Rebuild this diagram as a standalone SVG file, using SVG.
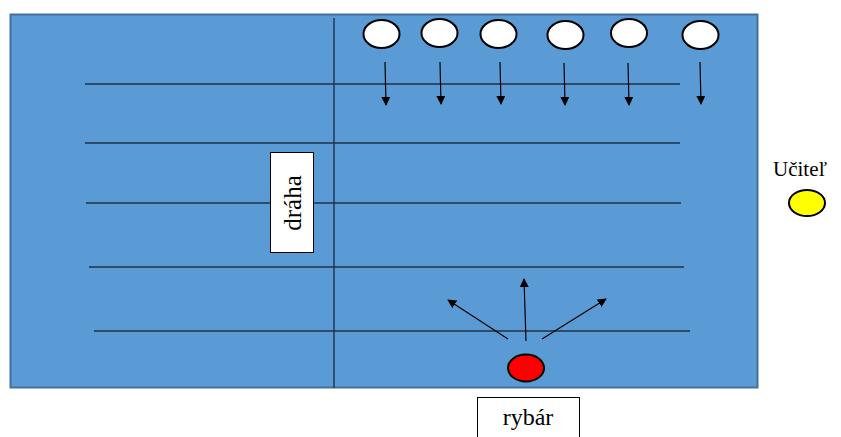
<svg xmlns="http://www.w3.org/2000/svg" width="841" height="437" viewBox="0 0 841 437">
  <style>
    .field { fill: #5B9BD5; stroke: #41719C; stroke-width: 2; }
    .lane { stroke: #1E3247; stroke-width: 1.4; fill: none; }
    .fish { fill: #FFFFFF; stroke: #000000; stroke-width: 2; }
    .arrow { stroke: #000000; stroke-width: 1.2; fill: none; marker-end: url(#head); }
    .label-box { fill: #FFFFFF; stroke: #000000; stroke-width: 1; }
    .label { font-family: "Liberation Serif", "Times New Roman", serif; fill: #000000; }
  </style>
  <defs>
    <marker id="head" viewBox="0 0 10 10" refX="9" refY="5" markerWidth="9" markerHeight="9" markerUnits="userSpaceOnUse" orient="auto">
      <path d="M0,0 L10,5 L0,10 Z" fill="#000000"/>
    </marker>
  </defs>

  <!-- swimming pool -->
  <g id="pool">
    <rect class="field" x="10.5" y="14.5" width="747" height="373"/>
  </g>

  <!-- lane lines and centre divider -->
  <g id="lanes">
    <line class="lane" x1="334" y1="18" x2="334" y2="388"/>
    <line class="lane" x1="85" y1="84" x2="680" y2="84"/>
    <line class="lane" x1="85" y1="143" x2="680" y2="143"/>
    <line class="lane" x1="86" y1="203" x2="681" y2="203"/>
    <line class="lane" x1="89" y1="267" x2="684" y2="267"/>
    <line class="lane" x1="94" y1="331" x2="690" y2="331"/>
  </g>

  <!-- swimmers (fish) at the top -->
  <g id="fish1"><ellipse class="fish" cx="381.5" cy="34" rx="18" ry="14"/></g>
  <g id="fish2"><ellipse class="fish" cx="439.5" cy="33" rx="18" ry="14"/></g>
  <g id="fish3"><ellipse class="fish" cx="498.5" cy="34" rx="18" ry="14"/></g>
  <g id="fish4"><ellipse class="fish" cx="565.5" cy="35" rx="18" ry="14"/></g>
  <g id="fish5"><ellipse class="fish" cx="629" cy="33" rx="18" ry="14"/></g>
  <g id="fish6"><ellipse class="fish" cx="700.5" cy="35" rx="18" ry="14"/></g>

  <!-- fisherman -->
  <g id="fisherman">
    <ellipse cx="526" cy="368" rx="18" ry="13.5" fill="#FF0000" stroke="#000000" stroke-width="2"/>
  </g>

  <!-- teacher -->
  <g id="teacher">
    <text class="label" x="800" y="176" font-size="21" text-anchor="middle">Učiteľ</text>
    <ellipse cx="807" cy="203" rx="18" ry="13" fill="#FFFF00" stroke="#000000" stroke-width="2"/>
  </g>

  <!-- lane label -->
  <g id="lane-label">
    <rect class="label-box" x="270.5" y="152.5" width="43" height="100"/>
    <text class="label" font-size="25" text-anchor="middle" transform="translate(301,203) rotate(-90)">dráha</text>
  </g>

  <!-- fisherman label -->
  <g id="fisherman-label">
    <rect class="label-box" x="477.5" y="397.5" width="102" height="45"/>
    <text class="label" x="528" y="425" font-size="24" text-anchor="middle">rybár</text>
  </g>

  <!-- movement arrows -->
  <g id="connectors">
    <line class="arrow" x1="385" y1="62" x2="386" y2="105"/>
    <line class="arrow" x1="440" y1="62" x2="441" y2="104"/>
    <line class="arrow" x1="500" y1="62" x2="501" y2="104"/>
    <line class="arrow" x1="564" y1="63" x2="565" y2="105"/>
    <line class="arrow" x1="628" y1="63" x2="629" y2="105"/>
    <line class="arrow" x1="700" y1="62" x2="701" y2="104"/>
    <line class="arrow" x1="526" y1="341" x2="524" y2="279"/>
    <line class="arrow" x1="508" y1="339" x2="448" y2="300"/>
    <line class="arrow" x1="542" y1="339" x2="606" y2="299"/>
  </g>
</svg>
